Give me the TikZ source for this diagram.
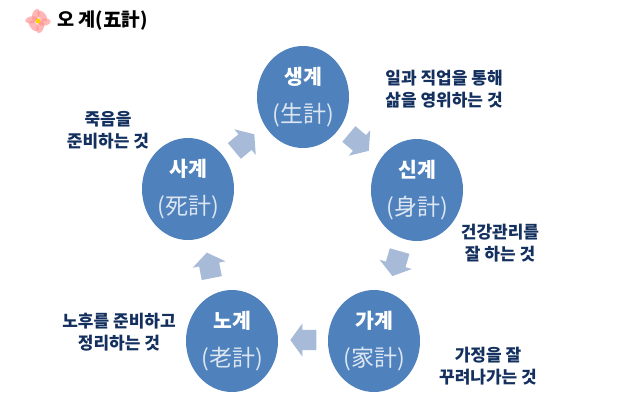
\documentclass[tikz,border=0pt]{standalone}
\usepackage{fontspec}
\setmainfont{Noto Sans CJK KR}
\usetikzlibrary{shapes.arrows,shapes.geometric}
\definecolor{disc}{HTML}{4F81BD}
\definecolor{arrowfill}{HTML}{A7BBD9}
\definecolor{navy}{HTML}{14305F}
\definecolor{hanzi}{HTML}{DCE6F2}
\tikzset{x=1pt,y=-1pt,
 disc/.style={ellipse,fill=disc,minimum width=92pt,minimum height=102pt,inner sep=0pt,text=white,align=center},
 blockarrow/.style={single arrow,fill=arrowfill,minimum height=26pt,minimum width=33pt,single arrow head extend=6.5pt,inner xsep=0pt,inner ysep=10pt,single arrow tip angle=108},
 note/.style={text=navy,align=center,font=\bfseries\fontsize{17}{22}\selectfont,inner sep=0pt},
 petal/.style={fill=#1,ellipse,minimum width=13pt,minimum height=7pt,inner sep=0pt,opacity=.65}}
\newcommand{\disctext}[2]{{\bfseries\fontsize{20.5}{21}\selectfont #1}\\[16pt]{\fontsize{23}{24}\selectfont\color{hanzi}(#2)}}
\begin{document}
\begin{tikzpicture}
\useasboundingbox (0,0) rectangle (620,400);
\fill[white] (0,0) rectangle (620,400);
\node[disc] (saeng) at (303,97) {\disctext{생계}{生計}};
\node[disc] (sin) at (417,190) {\disctext{신계}{身計}};
\node[disc] (ga) at (374,341) {\disctext{가계}{家計}};
\node[disc] (no) at (232,341) {\disctext{노계}{老計}};
\node[disc] (sa) at (188,189) {\disctext{사계}{死計}};
\node[blockarrow,rotate=-40] (a1) at (356,140) {};
\node[blockarrow,rotate=-106] (a2) at (397,260) {};
\node[blockarrow,rotate=180] (a3) at (307,340) {};
\node[blockarrow,rotate=101] (a4) at (210,269) {};
\node[blockarrow,rotate=40] (a5) at (241.5,145) {};
\node[note] (n1) at (444,89) {일과 직업을 통해\\삶을 영위하는 것};
\node[note] (n2) at (500,243) {건강관리를\\잘 하는 것};
\node[note] (n3) at (488,366) {가정을 잘\\꾸려나가는 것};
\node[note] (n4) at (119,332) {노후를 준비하고\\정리하는 것};
\node[note] (n5) at (108,130) {죽음을\\준비하는 것};
\node[text=black,font=\bfseries\fontsize{18.6}{20}\selectfont,inner sep=0pt,anchor=west] (title) at (57,20) {오 계(五計)};
\foreach \r in {10,70,130,190,250,310}
  \node[petal=pink!75!red,rotate=\r] at ({38+6.5*cos(\r)},{21+6.5*sin(\r)}) {};
\node[circle,fill=yellow!70!orange,minimum size=5pt,inner sep=0pt] (flower) at (38,21) {};
\end{tikzpicture}
\end{document}
